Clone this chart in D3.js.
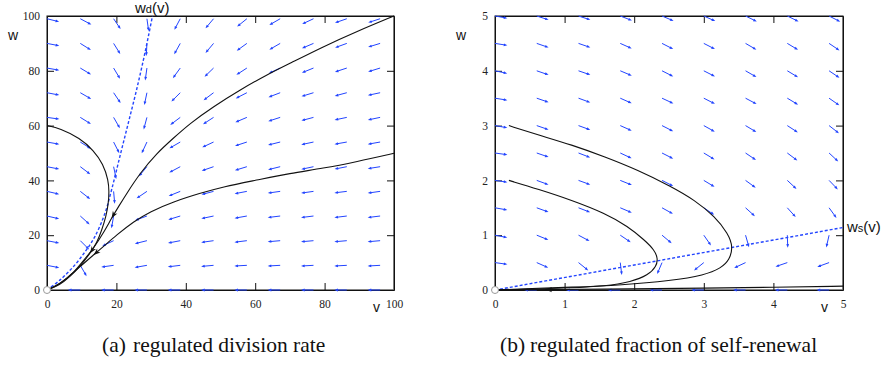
<!DOCTYPE html>
<html>
<head>
<meta charset="utf-8">
<script src="https://cdn.jsdelivr.net/npm/d3@7"></script>
<style>
  body { margin: 0; background: #fff; }
  .tick text { font-family: "Liberation Serif", serif; font-size: 11.5px; fill: #222; }
  .lbl { font-family: "Liberation Sans", sans-serif; fill: #111; }
  .cap { font-family: "Liberation Serif", serif; font-size: 21.5px; fill: #111; }
</style>
</head>
<body>
<svg id="chart" width="886" height="371"></svg>
<script>
// ---- panel (a): regulated division rate ----
const divGridV = [0, 9.6, 19.2, 28.8, 38.4, 48, 57.6, 67.2, 76.8, 86.4, 96];
const divGridW = [99, 90, 81, 72, 63, 54, 45, 36, 27, 18, 9, 0];
// arrow direction in degrees on screen (0 = pointing right, 90 = pointing down)
const divAngles = [
  [14, 28, 56, 82, 118, 130, 141, 150, 155, 161, 162],
  [11, 32, 58, 93, 119, 130, 144, 150, 157, 160, 163],
  [10, 31, 59, 98, 126, 136, 147, 155, 158, 162, 163],
  [11, 30, 56, 102, 135, 143, 153, 159, 163, 165, 168],
  [8, 32, 60, 105, 143, 147, 157, 162, 165, 168, 168],
  [10, 32, 63, 115, 150, 155, 162, 166, 168, 170, 170],
  [11, 37, 78, 130, 152, 161, 163, 166, 168, 169, 171],
  [13, 38, 85, 146, 158, 165, 169, 172, 172, 173, 172],
  [13, 42, 100, 160, 163, 168, 170, 173, 173, 173, 173],
  [11, 45, 155, 166, 169, 172, 173, 175, 175, 175, 175],
  [11, 60, 172, 170, 173, 175, 177, 177, 177, 177, 177],
  [null, 180, 180, 180, 180, 180, 180, 180, 180, 180, 180]
];
const divTrajectories = [
  [[0,60],[3.7,59],[9.5,55.4],[13.4,51],[16.2,46],[17.7,40],[17.9,35.9],[17.7,31.6],[17,26.8],[15.8,21.9],[14.3,17],[12.4,13.4],[9.5,8.5],[6.6,4.9],[3.7,1.8],[0,0]],
  [[100,100],[89.2,94.3],[79.6,88.8],[70,82.7],[63.3,78.5],[55.6,73],[47.9,66.9],[41.2,60.8],[36.4,55.4],[31.6,49.9],[26.8,42.6],[23,35.3],[20.6,30.4],[18.6,26.2],[16.2,20.7],[13.4,15.2],[11.4,12.2],[7.6,6.1],[3.7,2.2],[0,0]],
  [[100,49.9],[89.2,46.8],[79.6,44.4],[70,42.6],[60.4,40.1],[50.8,37.7],[44.1,35.3],[36.4,32.2],[29.7,28.6],[24.9,24.9],[20.1,20.1],[16.2,15.8],[13.4,12.8],[9.5,8.5],[5.7,4.3],[2.8,1.5],[0,0]]
];
// [trajectory, point index] where a direction head sits
const divHeads = [[0, 11], [1, 13], [2, 12]];
const divNullcline = [[0,0],[3.7,3.6],[7.6,8.5],[11,14],[13.8,19.5],[16.7,28],[18.6,36.5],[21,48.7],[23.4,60.8],[25.8,73],[28.2,86.4],[30.4,100]];
const divTicksV = [0, 20, 40, 60, 80, 100];
const divTicksW = [0, 20, 40, 60, 80, 100];

// ---- panel (b): regulated fraction of self-renewal ----
const srGridV = [0, 0.6, 1.2, 1.8, 2.4, 3.0, 3.6, 4.2, 4.8];
const srGridW = [5, 4.5, 4, 3.5, 3, 2.5, 2, 1.5, 1, 0.5, 0];
const srAngles = [
  [10, 18, 18, 21, 23, 24, 26, 26, 27],
  [9, 19, 19, 24, 27, 27, 30, 31, 34],
  [12, 19, 19, 23, 27, 27, 30, 31, 34],
  [9, 19, 20, 24, 25, 27, 28, 31, 35],
  [10, 19, 20, 24, 27, 29, 31, 33, 38],
  [8, 19, 21, 25, 27, 31, 34, 37, 43],
  [8, 20, 20, 22, 27, 31, 36, 43, 46],
  [10, 20, 21, 23, 29, 34, 42, 48, 54],
  [11, 22, 28, 34, 40, 55, 74, 88, 103],
  [8, 24, 39, 83, 113, 141, 155, 161, 160],
  [null, 180, 180, 180, 180, 180, 180, 180, 180]
];
const srTrajectories = [
  [[0.2,3],[0.62,2.83],[1.1,2.65],[1.58,2.43],[2.05,2.19],[2.53,1.89],[2.87,1.64],[3.16,1.34],[3.35,1.03],[3.42,0.79],[3.37,0.55],[3.25,0.4],[3.01,0.27],[2.53,0.17],[1.82,0.09],[1.1,0.05],[0.38,0.02],[0,0]],
  [[0.2,2],[0.62,1.84],[1.1,1.64],[1.58,1.4],[1.91,1.16],[2.15,0.91],[2.29,0.73],[2.34,0.58],[2.32,0.43],[2.2,0.27],[1.96,0.15],[1.58,0.07],[1.1,0.04],[0.38,0.01],[0,0]],
  [[5,0.07],[4,0.05],[3,0.035],[2,0.02],[0.72,0.007],[0,0]]
];
const srHeads = [[2, 4]];
const srNullcline = [[0,0],[5,1.14]];
const srTicksV = [0, 1, 2, 3, 4, 5];
const srTicksW = [0, 1, 2, 3, 4, 5];

const blue = "#2345ff";
const svg = d3.select("#chart");

function drawPanel(opt) {
  const x = d3.scaleLinear().domain(opt.xDomain).range([opt.left, opt.right]);
  const y = d3.scaleLinear().domain(opt.yDomain).range([opt.bottom, opt.top]);
  const g = svg.append("g");

  // frame first, marks go on top of it
  g.append("rect").attr("x", opt.left).attr("y", opt.top)
    .attr("width", opt.right - opt.left).attr("height", opt.bottom - opt.top)
    .attr("fill", "none").attr("stroke", "#111").attr("stroke-width", 1);
  g.append("line").attr("x1", opt.right).attr("x2", opt.right).attr("y1", opt.top).attr("y2", opt.bottom)
    .attr("stroke", "#777").attr("stroke-width", 1.4);

  // axes with inward ticks
  const inner = opt.ticks.slice(1, -1);
  g.append("g").attr("transform", `translate(0,${opt.bottom})`)
    .call(d3.axisBottom(x).tickValues(opt.ticks).tickSizeInner(-7).tickSizeOuter(0).tickPadding(10)
      .tickFormat(d3.format("d")))
    .call(a => a.selectAll(".tick line").filter(d => d === opt.ticks[0] || d === opt.ticks[opt.ticks.length - 1]).remove());
  g.append("g").attr("transform", `translate(${opt.left},0)`)
    .call(d3.axisLeft(y).tickValues(opt.yTicks).tickSizeInner(-7).tickSizeOuter(0).tickPadding(7)
      .tickFormat(d3.format("d")))
    .call(a => a.selectAll(".tick line").filter(d => d === opt.yTicks[0] || d === opt.yTicks[opt.yTicks.length - 1]).remove());
  g.append("g").attr("transform", `translate(0,${opt.top})`)
    .call(d3.axisTop(x).tickValues(inner).tickSizeInner(-7).tickSizeOuter(0).tickFormat(""));
  g.append("g").attr("transform", `translate(${opt.right},0)`)
    .call(d3.axisRight(y).tickValues(opt.yTicks.slice(1, -1)).tickSizeInner(-7).tickSizeOuter(0).tickFormat(""));
  g.selectAll(".domain, .tick line").attr("stroke", "#111");

  // vector field
  const len = 12.5, hl = 3.6, hw = 1.4;
  const field = g.append("g");
  opt.gridW.forEach((wv, i) => {
    opt.gridV.forEach((vv, j) => {
      const ang = opt.angles[i][j];
      if (ang === null) return;
      const r = ang * Math.PI / 180;
      const x0 = x(vv), y0 = y(wv);
      const ux = Math.cos(r), uy = Math.sin(r);
      const x1 = x0 + len * ux, y1 = y0 + len * uy;
      field.append("line")
        .attr("x1", x0).attr("y1", y0)
        .attr("x2", x1 - hl * ux * 0.6).attr("y2", y1 - hl * uy * 0.6)
        .attr("stroke", blue).attr("stroke-width", 1);
      field.append("path")
        .attr("d", `M${x1},${y1}L${x1 - hl * ux - hw * uy},${y1 - hl * uy + hw * ux}L${x1 - hl * ux + hw * uy},${y1 - hl * uy - hw * ux}Z`)
        .attr("fill", blue);
    });
  });

  // nullcline
  g.append("path")
    .attr("d", d3.line().x(d => x(d[0])).y(d => y(d[1])).curve(d3.curveCatmullRom.alpha(0.5))(opt.nullcline))
    .attr("fill", "none").attr("stroke", blue).attr("stroke-width", 1.4).attr("stroke-dasharray", "3,2");

  // trajectories
  const line = d3.line().x(d => x(d[0])).y(d => y(d[1])).curve(d3.curveBasis);
  opt.traj.forEach(t => {
    g.append("path").attr("d", line(t)).attr("fill", "none").attr("stroke", "#111").attr("stroke-width", 1.1);
  });
  opt.heads.forEach(([ti, pi]) => {
    const t = opt.traj[ti];
    const p = t[pi], q = t[pi - 1];
    const px = x(p[0]), py = y(p[1]);
    const a = Math.atan2(py - y(q[1]), px - x(q[0]));
    const ux = Math.cos(a), uy = Math.sin(a);
    g.append("path")
      .attr("d", `M${px},${py}L${px - 7 * ux - 2.6 * uy},${py - 7 * uy + 2.6 * ux}L${px - 5 * ux},${py - 5 * uy}L${px - 7 * ux + 2.6 * uy},${py - 7 * uy - 2.6 * ux}Z`)
      .attr("fill", "#111");
  });

  // origin marker
  g.append("circle").attr("cx", x(0)).attr("cy", y(0)).attr("r", 3.5)
    .attr("fill", "#fff").attr("stroke", "#9a9a9a").attr("stroke-width", 1);

  return { x, y, g };
}

drawPanel({
  left: 47, right: 394, top: 16, bottom: 290,
  xDomain: [0, 100], yDomain: [0, 100], ticks: divTicksV, yTicks: divTicksW,
  gridV: divGridV, gridW: divGridW, angles: divAngles,
  traj: divTrajectories, heads: divHeads, nullcline: divNullcline
});
drawPanel({
  left: 495, right: 843, top: 16, bottom: 290,
  xDomain: [0, 5], yDomain: [0, 5], ticks: srTicksV, yTicks: srTicksW,
  gridV: srGridV, gridW: srGridW, angles: srAngles,
  traj: srTrajectories, heads: srHeads, nullcline: srNullcline
});

// axis names
svg.append("text").attr("class", "lbl").attr("x", 8).attr("y", 40).attr("font-size", 14).text("w");
svg.append("text").attr("class", "lbl").attr("x", 373).attr("y", 312).attr("font-size", 14).text("v");
svg.append("text").attr("class", "lbl").attr("x", 456).attr("y", 40).attr("font-size", 14).text("w");
svg.append("text").attr("class", "lbl").attr("x", 821).attr("y", 312).attr("font-size", 14).text("v");

// nullcline labels
const ld = svg.append("text").attr("class", "lbl").attr("x", 135).attr("y", 13).attr("font-size", 15);
ld.append("tspan").text("w");
ld.append("tspan").attr("font-size", 11).text("d");
ld.append("tspan").text("(v)");
const ls = svg.append("text").attr("class", "lbl").attr("x", 847).attr("y", 232).attr("font-size", 15);
ls.append("tspan").text("w");
ls.append("tspan").attr("font-size", 11).text("s");
ls.append("tspan").text("(v)");

// captions
svg.append("text").attr("class", "cap").attr("x", 102).attr("y", 352).text("(a)");
svg.append("text").attr("class", "cap").attr("x", 133).attr("y", 352).text("regulated division rate");
svg.append("text").attr("class", "cap").attr("x", 500).attr("y", 352).text("(b)");
svg.append("text").attr("class", "cap").attr("x", 530).attr("y", 352).text("regulated fraction of self-renewal");
</script>
</body>
</html>
